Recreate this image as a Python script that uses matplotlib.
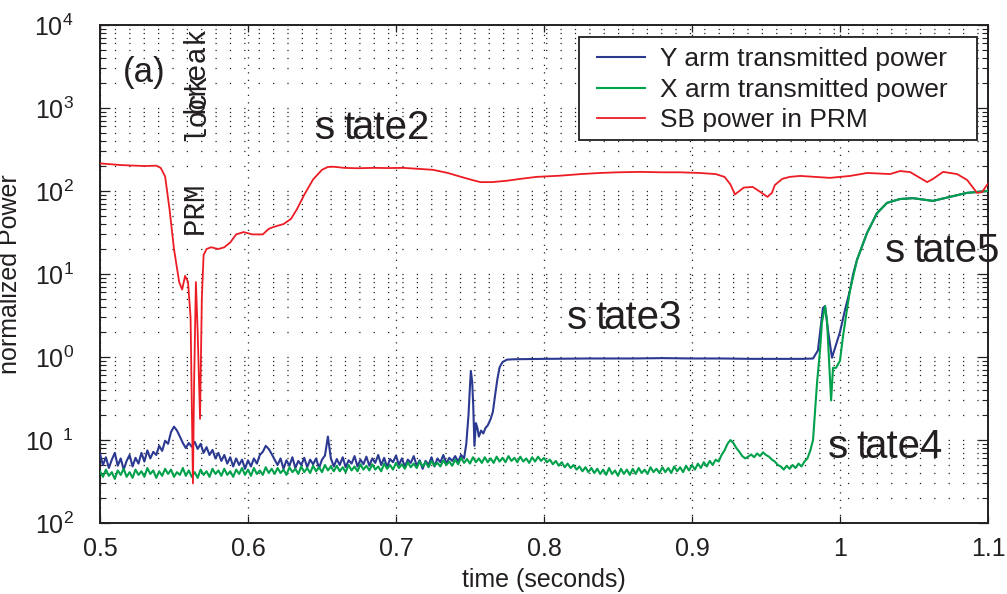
import numpy as np
import matplotlib
matplotlib.use("Agg")
import matplotlib.pyplot as plt
from matplotlib.patches import Rectangle
from matplotlib.ticker import FixedLocator, FixedFormatter, LogLocator, NullFormatter

plt.rcParams['font.family'] = ['Liberation Sans', 'DejaVu Sans']
plt.rcParams['mathtext.fontset'] = 'custom'
plt.rcParams['mathtext.rm'] = 'Liberation Sans'
plt.rcParams['mathtext.it'] = 'Liberation Sans:italic'
plt.rcParams['mathtext.bf'] = 'Liberation Sans:bold'

# ---------------- data ----------------
# Y arm transmitted power: noisy part, sampled every 2 ms from 0.500 s
y_noise_t0, y_noise_dt = 0.500, 0.002
y_noise_vals = [0.068, 0.050, 0.062, 0.046, 0.058, 0.070, 0.049, 0.060, 0.044, 0.056,
                0.066, 0.048, 0.061, 0.052, 0.070, 0.055, 0.075, 0.060, 0.072, 0.066,
                0.085, 0.074, 0.098, 0.090, 0.125, 0.145, 0.130, 0.110, 0.092, 0.080,
                0.092, 0.083, 0.095, 0.078, 0.090, 0.070, 0.082, 0.066, 0.076, 0.060,
                0.070, 0.056, 0.066, 0.052, 0.062, 0.048, 0.060, 0.050, 0.058, 0.045,
                0.057, 0.048, 0.060, 0.052, 0.066, 0.072, 0.085, 0.078, 0.068, 0.058,
                0.050, 0.060, 0.045, 0.057, 0.049, 0.062, 0.046, 0.056, 0.050, 0.061,
                0.047, 0.058, 0.051, 0.060, 0.046, 0.058, 0.065, 0.110, 0.060, 0.048,
                0.059, 0.050, 0.062, 0.047, 0.057, 0.052, 0.064, 0.048, 0.058, 0.051,
                0.063, 0.049, 0.060, 0.053, 0.066, 0.050, 0.061, 0.047, 0.059, 0.054,
                0.065, 0.050, 0.060, 0.048, 0.058, 0.053, 0.064, 0.049, 0.057, 0.045,
                0.056, 0.050, 0.062, 0.048, 0.060, 0.054, 0.066, 0.052, 0.061, 0.056,
                0.064, 0.055, 0.066, 0.060]
# Y arm: remaining part
y_tail_t = [0.7475, 0.7490, 0.7500, 0.7506, 0.7515, 0.7522, 0.7530, 0.7540, 0.7550, 0.7560,
            0.7575, 0.7590, 0.7605, 0.7620, 0.7640, 0.7655, 0.7670, 0.7685, 0.7700, 0.7720,
            0.7750, 0.7800, 0.8000, 0.8300, 0.8600, 0.8800, 0.9000, 0.9200, 0.9400, 0.9600,
            0.9750, 0.9818, 0.9851, 0.9885, 0.9899, 0.9919, 0.9946, 0.9973, 1.0000, 1.0034,
            1.0068, 1.0088, 1.0115, 1.0182, 1.0250, 1.0318, 1.0405, 1.0493, 1.0628, 1.0743,
            1.0858, 1.0946, 1.0993, 1.1000]
y_tail_vals = [0.090, 0.200, 0.450, 0.680, 0.500, 0.260, 0.085, 0.160, 0.140, 0.110,
               0.130, 0.120, 0.140, 0.150, 0.180, 0.220, 0.350, 0.540, 0.750, 0.870,
               0.930, 0.940, 0.950, 0.960, 0.960, 0.970, 0.960, 0.960, 0.950, 0.950,
               0.950, 0.960, 1.200, 3.900, 4.100, 2.100, 0.980, 1.400, 2.000, 3.700,
               6.400, 9.800, 14.80, 31.00, 54.00, 72.00, 80.00, 82.00, 76.00, 85.00,
               95.00, 98.00, 100.0, 101.0]

# X arm transmitted power: noisy part, sampled every 2 ms from 0.500 s
x_noise_t0, x_noise_dt = 0.500, 0.002
x_noise_vals = [0.042, 0.036, 0.044, 0.037, 0.041, 0.034, 0.043, 0.038, 0.045, 0.036,
                0.041, 0.035, 0.044, 0.038, 0.042, 0.036, 0.046, 0.039, 0.043, 0.035,
                0.042, 0.037, 0.045, 0.039, 0.044, 0.036, 0.041, 0.038, 0.046, 0.037,
                0.043, 0.036, 0.041, 0.035, 0.044, 0.038, 0.042, 0.036, 0.045, 0.039,
                0.043, 0.037, 0.045, 0.038, 0.042, 0.036, 0.044, 0.039, 0.046, 0.038,
                0.044, 0.037, 0.046, 0.039, 0.043, 0.038, 0.047, 0.040, 0.045, 0.039,
                0.046, 0.040, 0.044, 0.038, 0.047, 0.041, 0.045, 0.039, 0.048, 0.041,
                0.046, 0.040, 0.049, 0.042, 0.047, 0.041, 0.050, 0.043, 0.048, 0.042,
                0.049, 0.042, 0.047, 0.041, 0.050, 0.043, 0.048, 0.042, 0.051, 0.044,
                0.049, 0.043, 0.051, 0.044, 0.048, 0.042, 0.052, 0.045, 0.050, 0.044,
                0.053, 0.046, 0.051, 0.045, 0.054, 0.047, 0.052, 0.046, 0.055, 0.048,
                0.054, 0.047, 0.056, 0.049, 0.053, 0.048, 0.057, 0.050, 0.055, 0.049,
                0.058, 0.051, 0.061, 0.053, 0.059, 0.052, 0.062, 0.054, 0.060, 0.053,
                0.062, 0.054, 0.060, 0.053, 0.063, 0.055, 0.061, 0.054, 0.064, 0.056,
                0.061, 0.054, 0.063, 0.055, 0.060, 0.053, 0.062, 0.055, 0.063, 0.056,
                0.061, 0.054, 0.058, 0.051, 0.056, 0.049, 0.054, 0.047, 0.052, 0.046,
                0.050, 0.044, 0.048, 0.042, 0.047, 0.041, 0.046, 0.040, 0.045, 0.039,
                0.044, 0.038, 0.046, 0.039, 0.043, 0.037, 0.045, 0.039, 0.044, 0.038,
                0.045, 0.039, 0.046, 0.040, 0.044, 0.039, 0.047, 0.041, 0.045, 0.040,
                0.047, 0.041, 0.046, 0.040, 0.048, 0.042, 0.047, 0.041, 0.049, 0.043,
                0.050, 0.044, 0.052, 0.046, 0.054, 0.048, 0.056, 0.050, 0.058, 0.055,
                0.066, 0.075, 0.090, 0.100, 0.092, 0.080, 0.072, 0.064, 0.060, 0.063,
                0.067, 0.062, 0.069, 0.064, 0.071, 0.066, 0.063, 0.058, 0.055, 0.050,
                0.048, 0.044, 0.049, 0.045, 0.050, 0.046, 0.052, 0.048, 0.055, 0.060,
                0.075]
# X arm: remaining part
x_tail_t = [0.9818, 0.9845, 0.9865, 0.9878, 0.9899, 0.9912, 0.9926, 0.9940, 0.9953, 0.9973,
            1.0000, 1.0020, 1.0047, 1.0068, 1.0115, 1.0182, 1.0250, 1.0318, 1.0405, 1.0493,
            1.0628, 1.0743, 1.0858, 1.0946, 1.0993, 1.1000]
x_tail_vals = [0.100, 0.490, 1.200, 2.600, 4.100, 2.800, 0.900, 0.300, 0.740, 0.740,
               0.900, 1.750, 3.700, 6.400, 14.80, 31.00, 54.00, 72.00, 80.00, 82.00,
               76.00, 85.00, 95.00, 98.00, 100.0, 101.0]

# Sideband power in PRM
sb_t = [0.5000, 0.5150, 0.5300, 0.5380, 0.5410, 0.5440, 0.5470, 0.5500, 0.5535, 0.5555,
        0.5575, 0.5595, 0.5612, 0.5620, 0.5628, 0.5636, 0.5648, 0.5660, 0.5676, 0.5688,
        0.5700, 0.5720, 0.5750, 0.5800, 0.5840, 0.5880, 0.5920, 0.5970, 0.6030, 0.6100,
        0.6140, 0.6175, 0.6240, 0.6290, 0.6330, 0.6380, 0.6440, 0.6500, 0.6540, 0.6580,
        0.6650, 0.6740, 0.6850, 0.6950, 0.7050, 0.7150, 0.7250, 0.7350, 0.7440, 0.7520,
        0.7570, 0.7650, 0.7750, 0.7840, 0.7950, 0.8110, 0.8250, 0.8380, 0.8500, 0.8650,
        0.8800, 0.8920, 0.9050, 0.9160, 0.9220, 0.9260, 0.9290, 0.9320, 0.9350, 0.9410,
        0.9460, 0.9510, 0.9540, 0.9560, 0.9610, 0.9660, 0.9731, 0.9933, 1.0069, 1.0184,
        1.0339, 1.0406, 1.0474, 1.0589, 1.0629, 1.0697, 1.0791, 1.0859, 1.0926, 1.0960,
        1.0993, 1.1000]
sb_vals = [215, 205, 200, 202, 190, 150, 60, 20, 8, 6.5,
           9.5, 8, 3, 0.3, 0.03, 0.5, 8, 2, 0.18, 5,
           17, 20, 21, 20, 21, 24, 30, 32, 30, 30,
           35, 37, 40, 46, 60, 90, 138, 180, 195, 196,
           190, 188, 190, 189, 190, 185, 180, 165, 148, 135,
           128, 128, 133, 140, 148, 153, 160, 165, 168, 170,
           168, 168, 165, 160, 148, 120, 91, 100, 110, 112,
           98, 85, 95, 118, 140, 148, 152, 144, 152, 165,
           160, 174, 169, 128, 140, 170, 160, 136, 95, 97,
           118, 122]

series_labels = ['Y arm transmitted power', 'X arm transmitted power', 'SB power in PRM']
x_ticks = [0.5, 0.6, 0.7, 0.8, 0.9, 1.0, 1.1]
x_tick_labels = ['0.5', '0.6', '0.7', '0.8', '0.9', '1', '1.1']
y_ticks = [1e4, 1e3, 1e2, 1e1, 1e0, 1e-1, 1e-2]
y_tick_labels = [r'$10^{4}$', r'$10^{3}$', r'$10^{2}$', r'$10^{1}$', r'$10^{0}$',
                 r'$10^{\ \ 1}$', r'$10^{2}$']

# ---------------- assemble ----------------
y_t = np.concatenate([y_noise_t0 + y_noise_dt * np.arange(len(y_noise_vals)), y_tail_t])
y_v = np.concatenate([y_noise_vals, y_tail_vals])
x_t = np.concatenate([x_noise_t0 + x_noise_dt * np.arange(len(x_noise_vals)), x_tail_t])
x_v = np.concatenate([x_noise_vals, x_tail_vals])

TXT = '#231f20'
fig = plt.figure(figsize=(10.07, 5.94), dpi=100)
ax = fig.add_axes([0.0993, 0.1195, 0.8818, 0.8384])

ax.plot(y_t, y_v, color='#2b3990', lw=1.5, label=series_labels[0], zorder=3)
ax.plot(x_t, x_v, color='#00a14b', lw=1.5, label=series_labels[1], zorder=3)
ax.plot(sb_t, sb_vals, color='#ed1c24', lw=1.3, label=series_labels[2], zorder=4)

ax.set_yscale('log')
ax.set_xlim(0.5, 1.1)
ax.set_ylim(1e-2, 1e4)

ax.xaxis.set_major_locator(FixedLocator(x_ticks))
ax.xaxis.set_major_formatter(FixedFormatter(x_tick_labels))
ax.yaxis.set_major_locator(FixedLocator(y_ticks))
ax.yaxis.set_major_formatter(FixedFormatter(y_tick_labels))
ax.yaxis.set_minor_locator(LogLocator(base=10, subs=np.arange(2, 10)))
ax.yaxis.set_minor_formatter(NullFormatter())

ax.tick_params(axis='both', which='both', direction='in', top=True, right=True, colors=TXT)
ax.tick_params(axis='x', which='major', length=5, width=0.9, labelsize=18, pad=10)
ax.tick_params(axis='y', which='major', length=7, width=0.9, labelsize=18, pad=19)
ax.tick_params(axis='y', which='minor', length=4, width=0.8)

ax.grid(True, which='both', axis='y', color='#222222', linestyle=(0, (1, 10.5)), linewidth=0.9)
ax.grid(True, which='major', axis='x', color='#222222', linestyle=(0, (1, 5)), linewidth=0.9)
for s in ax.spines.values():
    s.set_linewidth(1.4)
    s.set_color(TXT)

ax.set_xlabel('time (seconds)', fontsize=18, color=TXT, labelpad=5)
ax.set_ylabel('normalized Power', fontsize=18, color=TXT, labelpad=2)

# legend: frameless entries plus a drawn frame box
frame = Rectangle((0.5394, 0.7691), 0.9876 - 0.5394, 0.9759 - 0.7691, transform=ax.transAxes,
                  facecolor='white', edgecolor=TXT, linewidth=1.3, zorder=6)
ax.add_patch(frame)
leg = ax.legend(loc='upper left', bbox_to_anchor=(0.5597, 0.955), fontsize=19, frameon=False,
                handlelength=1.82, handletextpad=0.57, labelspacing=0.24, borderpad=0.0,
                borderaxespad=0.0)
leg.set_zorder(7)
for txt in leg.get_texts():
    txt.set_color(TXT)

# annotations
ax.text(0.5155, 2055, '(a)', fontsize=25, color=TXT, ha='left', va='baseline')

mono = dict(family='Liberation Mono', fontsize=21, color=TXT, rotation=90,
            rotation_mode='anchor', ha='left', va='center')
ax.text(0.5642, 30.3, 'PRM', **mono)
ax.text(0.5642, 400, 'lock', **mono)
ax.text(0.5642, 871, 'break', **mono)


def state_label(t, y, digit):
    kw = dict(fontsize=29, color=TXT, ha='left', va='baseline', zorder=5,
              textcoords='offset pixels', annotation_clip=False)
    ax.annotate('s', (t, y), xytext=(0, 0), **kw)
    ax.annotate('t', (t, y), xytext=(28, 0), **kw)
    ax.annotate('ate' + digit, (t, y), xytext=(36, 0), **kw)


state_label(0.6453, 424, '2')
state_label(0.8155, 2.17, '3')
state_label(0.9919, 0.0607, '4')
state_label(1.0304, 14.0, '5')

fig.savefig('out.png', dpi=100)
